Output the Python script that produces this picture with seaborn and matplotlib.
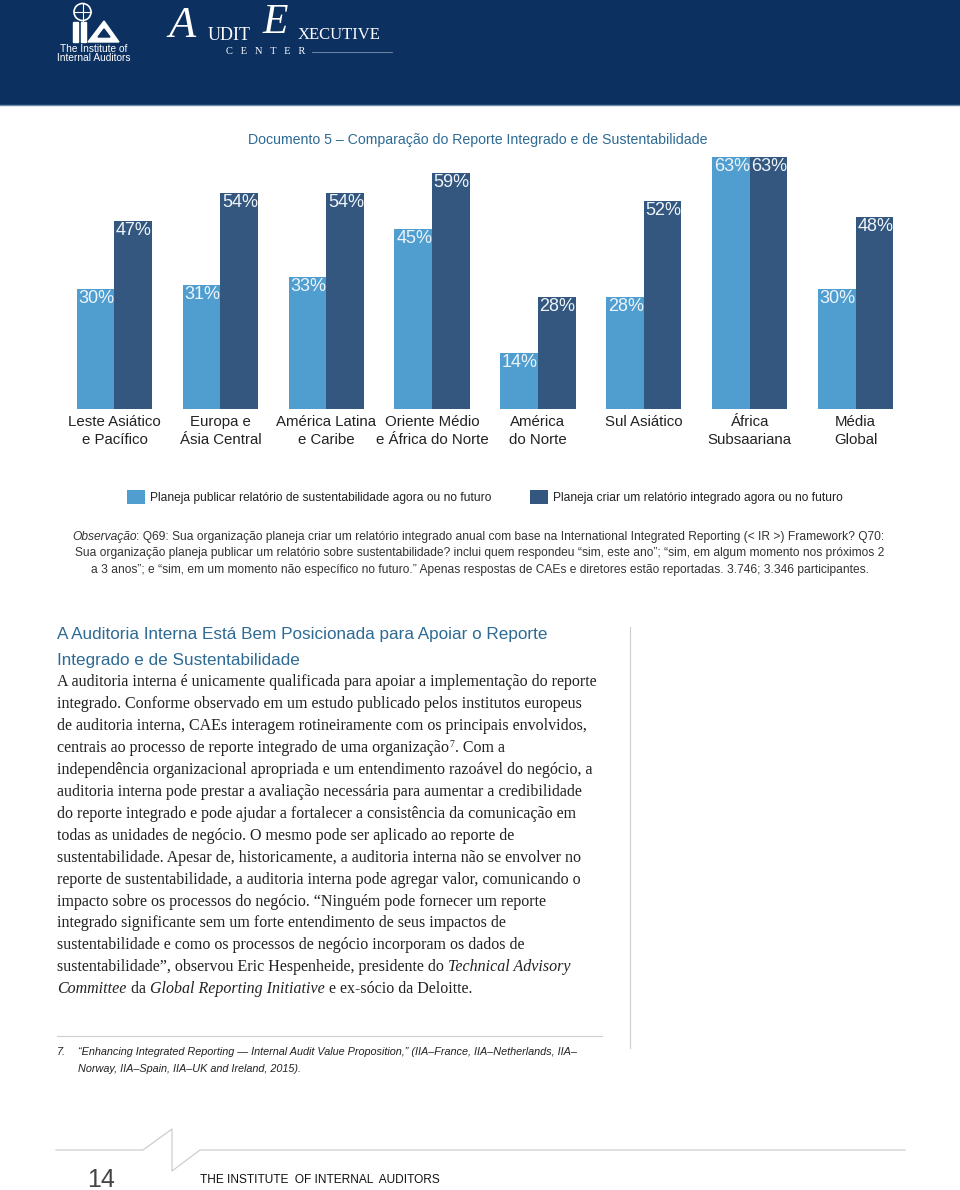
import numpy as np
import pandas as pd
import matplotlib
matplotlib.use('Agg')
import matplotlib.pyplot as plt
import seaborn as sns
from matplotlib import font_manager
from matplotlib.patches import Rectangle, Circle, Polygon
from matplotlib.lines import Line2D

# chart data
regions = ['Leste Asiático\ne Pacífico', 'Europa e\nÁsia Central', 'América Latina\ne Caribe',
           'Oriente Médio\ne África do Norte', 'América\ndo Norte', 'Sul Asiático',
           'África\nSubsaariana', 'Média\nGlobal']
sustainability = [30, 31, 33, 45, 14, 28, 63, 30]
integrated = [47, 54, 54, 59, 28, 52, 63, 48]
series_names = ['Planeja publicar relatório de sustentabilidade agora ou no futuro',
                'Planeja criar um relatório integrado agora ou no futuro']

chart_title = 'Documento 5 – Comparação do Reporte Integrado e de Sustentabilidade'
note_lines = [
    ': Q69: Sua organização planeja criar um relatório integrado anual com base na International Integrated Reporting (< IR >) Framework? Q70:',
    'Sua organização planeja publicar um relatório sobre sustentabilidade? inclui quem respondeu “sim, este ano”; “sim, em algum momento nos próximos 2',
    'a 3 anos”; e “sim, em um momento não específico no futuro.” Apenas respostas de CAEs e diretores estão reportadas. 3.746; 3.346 participantes.',
]
heading_lines = ['A Auditoria Interna Está Bem Posicionada para Apoiar o Reporte',
                 'Integrado e de Sustentabilidade']
# each body line is a list of (text, style) pieces; 'sup' = superscript
body_lines = [
    [('A auditoria interna é unicamente qualificada para apoiar a implementação do reporte', 'normal')],
    [('integrado. Conforme observado em um estudo publicado pelos institutos europeus', 'normal')],
    [('de auditoria interna, CAEs interagem rotineiramente com os principais envolvidos,', 'normal')],
    [('centrais ao processo de reporte integrado de uma organização', 'normal'), ('7', 'sup'), ('. Com a', 'normal')],
    [('independência organizacional apropriada e um entendimento razoável do negócio, a', 'normal')],
    [('auditoria interna pode prestar a avaliação necessária para aumentar a credibilidade', 'normal')],
    [('do reporte integrado e pode ajudar a fortalecer a consistência da comunicação em', 'normal')],
    [('todas as unidades de negócio. O mesmo pode ser aplicado ao reporte de', 'normal')],
    [('sustentabilidade. Apesar de, historicamente, a auditoria interna não se envolver no', 'normal')],
    [('reporte de sustentabilidade, a auditoria interna pode agregar valor, comunicando o', 'normal')],
    [('impacto sobre os processos do negócio. “Ninguém pode fornecer um reporte', 'normal')],
    [('integrado significante sem um forte entendimento de seus impactos de', 'normal')],
    [('sustentabilidade e como os processos de negócio incorporam os dados de', 'normal')],
    [('sustentabilidade”, observou Eric Hespenheide, presidente do ', 'normal'), ('Technical Advisory', 'italic')],
    [('Committee', 'italic'), (' da ', 'normal'), ('Global Reporting Initiative', 'italic'), (' e ex-sócio da Deloitte.', 'normal')],
]
footnote_lines = ['“Enhancing Integrated Reporting — Internal Audit Value Proposition,” (IIA–France, IIA–Netherlands, IIA–',
                  'Norway, IIA–Spain, IIA–UK and Ireland, 2015).']

LIGHT = '#4f9ecf'
DARK = '#34577f'
NAVY = '#0c3060'
TEAL = '#2d6a94'

available = {f.name for f in font_manager.fontManager.ttflist}
if 'Liberation Sans Narrow' in available:
    SANS = ['Liberation Sans Narrow', 'DejaVu Sans']
    K = 1.0
else:
    # regular width font, shrink so lines keep the reference widths
    SANS = ['Liberation Sans', 'DejaVu Sans']
    K = 0.85
SERIF = ['Liberation Serif', 'DejaVu Serif']


def chain_line(page, x, y, parts, size, family, color):
    """Draw a line made of several styled pieces, each placed after the previous one"""
    prev = None
    prev_style = None
    for text, style in parts:
        fs = size * 0.62 if style == 'sup' else size
        st = 'italic' if style == 'italic' else 'normal'
        if prev is None:
            prev = page.text(x, y, text, fontsize=fs, family=family, style=st, color=color,
                             ha='left', va='bottom')
        else:
            if style == 'sup':
                yoff = size * 0.45
            elif prev_style == 'sup':
                yoff = -size * 0.45
            else:
                yoff = 0
            prev = page.annotate(text, xy=(1, 0), xycoords=prev, xytext=(0.3, yoff),
                                 textcoords='offset points', fontsize=fs, family=family,
                                 style=st, color=color, ha='left', va='bottom')
        prev_style = style
    return prev


def draw_header(page):
    page.add_patch(Rectangle((0, 0), 960, 104, color=NAVY, zorder=0))
    page.add_line(Line2D([0, 960], [104.5, 104.5], color='#6d8cab', lw=1))
    # IIA logo: globe, two bars and a triangle
    page.add_patch(Circle((82.5, 12), 8.5, fill=False, ec='white', lw=1.2))
    page.add_line(Line2D([82.5, 82.5], [3.5, 20.5], color='white', lw=0.8))
    page.add_line(Line2D([74, 91], [12, 12], color='white', lw=0.8))
    page.add_patch(Rectangle((73, 22), 5, 20, color='white'))
    page.add_patch(Rectangle((81, 22), 5, 20, color='white'))
    page.add_patch(Polygon([(88, 42), (104, 21), (119, 42)], closed=True, color='white'))
    page.add_patch(Polygon([(98, 37), (104, 29), (110, 37)], closed=True, color=NAVY))
    page.text(94, 49, 'The Institute of', color='white', fontsize=7.3,
              family=SANS, ha='center', va='center')
    page.text(94, 58, 'Internal Auditors', color='white', fontsize=7.3,
              family=SANS, ha='center', va='center')
    # Audit Executive Center
    page.text(168, 26, 'A', color='white', fontsize=32, style='italic', family=SERIF,
              ha='left', va='center')
    page.text(208, 35, 'UDIT', color='white', fontsize=13, family=SERIF, ha='left', va='center')
    page.text(262, 23, 'E', color='white', fontsize=30, style='italic', family=SERIF,
              ha='left', va='center')
    page.text(298, 35, 'XECUTIVE', color='white', fontsize=12, family=SERIF, ha='left', va='center')
    page.text(226, 52, 'C   E   N   T   E   R', color='white', fontsize=7.5, family=SERIF,
              ha='left', va='center')
    page.add_line(Line2D([312, 392], [52, 52], color='#7f95b0', lw=0.6))


def draw_chart(fig):
    df = pd.DataFrame({
        'region': regions * 2,
        'value': sustainability + integrated,
        'series': [series_names[0]] * len(regions) + [series_names[1]] * len(regions),
    })
    ax = fig.add_axes([61.5 / 960, (1190 - 409) / 1190, 847 / 960, 260 / 1190])
    sns.barplot(data=df, x='region', y='value', hue='series', palette=[LIGHT, DARK],
                width=0.71, saturation=1, dodge=True, ax=ax, errorbar=None)
    ax.set_xlim(-0.5, len(regions) - 0.5)
    ax.set_ylim(0, 65)
    ax.set_xlabel('')
    ax.set_ylabel('')
    ax.set_yticks([])
    for s in ax.spines.values():
        s.set_visible(False)
    ax.tick_params(axis='x', length=0, pad=4.5, labelsize=12.7 * K, labelcolor='#222222')
    for lab in ax.get_xticklabels():
        lab.set_family(SANS)
        lab.set_linespacing(1.3)
        lab.set_verticalalignment('top')

    # percent labels in the top left corner of each bar
    for container in ax.containers:
        for bar in container:
            h = bar.get_height()
            ax.annotate(f'{h:.0f}%', xy=(bar.get_x(), h), xytext=(1.2, -0.8),
                        textcoords='offset points', ha='left', va='top',
                        fontsize=13, family=SANS, color='#eef4fa')

    fs = 10.2 * K
    px = fs * 100 / 72
    sns.move_legend(ax, 'center', bbox_to_anchor=(485 / 960, 1 - 497 / 1190),
                    bbox_transform=fig.transFigure, ncol=2, frameon=False, title=None,
                    fontsize=fs, handlelength=18 / px, handleheight=17 / px,
                    handletextpad=5 / px, columnspacing=39 / px)
    for t in ax.get_legend().get_texts():
        t.set_family(SANS)
        t.set_color('#222222')
    return ax


def main():
    fig = plt.figure(figsize=(9.6, 11.9), dpi=100)
    page = fig.add_axes([0, 0, 1, 1])
    page.set_xlim(0, 960)
    page.set_ylim(1190, 0)
    page.axis('off')

    draw_header(page)
    page.text(248, 140, chart_title, fontsize=12 * K, family=SANS, color=TEAL,
              ha='left', va='center')
    draw_chart(fig)

    # notes under the chart
    nfs = 10.2 * K
    first = page.text(72, 543, 'Observação', fontsize=nfs, family=SANS, style='italic',
                      color='#333333', ha='left', va='bottom')
    page.annotate(note_lines[0], xy=(1, 0), xycoords=first, fontsize=nfs, family=SANS,
                  color='#333333', ha='left', va='bottom')
    for i, line in enumerate(note_lines[1:]):
        page.text(480, 553 + i * 17, line, fontsize=nfs, family=SANS, color='#333333',
                  ha='center', va='center')

    # article section
    for i, line in enumerate(heading_lines):
        page.text(57, 635 + i * 25, line, fontsize=14.5 * K, family=SANS, color=TEAL,
                  ha='left', va='center')
    for i, parts in enumerate(body_lines):
        chain_line(page, 57, 690.5 + i * 21.9, parts, 11.5, SERIF, '#222222')

    page.add_line(Line2D([630, 630], [627, 1048], color='#cfcfcf', lw=0.8))
    page.add_line(Line2D([57, 602], [1036, 1036], color='#cfcfcf', lw=0.8))

    ffs = 9.2 * K
    page.text(57, 1052, '7.', fontsize=ffs, family=SANS, style='italic', color='#222222',
              ha='left', va='center')
    for i, line in enumerate(footnote_lines):
        page.text(78, 1052 + i * 17, line, fontsize=ffs, family=SANS, style='italic',
                  color='#222222', ha='left', va='center')

    # footer
    page.add_line(Line2D([56, 143, 172, 172, 200, 905], [1150, 1150, 1129, 1171, 1150, 1150],
                         color='#c8c8c8', lw=0.8))
    page.text(87, 1180, '14', fontsize=18, family=SANS, color='#444444', ha='left', va='center')
    page.text(200, 1180, 'THE INSTITUTE  OF INTERNAL  AUDITORS', fontsize=10.1 * K, family=SANS,
              color='#111111', ha='left', va='center')

    fig.savefig('out.png', dpi=100)
    plt.close(fig)


if __name__ == "__main__":
    main()
